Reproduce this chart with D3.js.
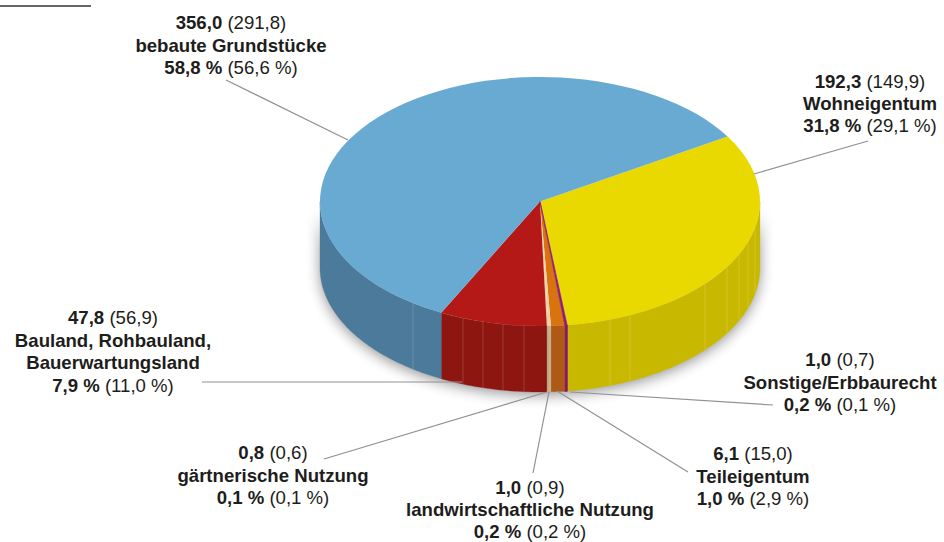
<!DOCTYPE html>
<html><head><meta charset="utf-8">
<script src="https://cdn.jsdelivr.net/npm/d3@7/dist/d3.min.js"></script>
<style>html,body{margin:0;padding:0;background:#fff}svg{display:block}text{font-family:"Liberation Sans",Arial,sans-serif;font-size:18.6px;fill:#1d1d1b}</style>
</head><body><svg id="c" width="944" height="542"></svg>
<script>
const categories=["Wohneigentum","Sonstige/Erbbaurecht","Teileigentum","landwirtschaftliche Nutzung","gärtnerische Nutzung","Bauland, Rohbauland, Bauerwartungsland","bebaute Grundstücke"];
const values=[192.3,1.0,6.1,1.0,0.8,47.8,356.0];
const prevValues=["149,9","0,7","15,0","0,9","0,6","56,9","291,8"];
const shares=["31,8 %","0,2 %","1,0 %","0,2 %","0,1 %","7,9 %","58,8 %"];
const prevShares=["29,1 %","0,1 %","2,9 %","0,2 %","0,1 %","11,0 %","56,6 %"];
const valueLabels=["192,3","1,0","6,1","1,0","0,8","47,8","356,0"];
const topColors=["#e9d900","#8f1a7c","#d8730d","#e8cfa0","#e8cfa0","#b51917","#69aad2"];
const sideColors=["#c9b800","#86166f","#ae5a16","#c8b08c","#c8b08c","#8e1611","#4b7a9b"];
const sliceStroke=[0,0.9,0,0,0,0,0];
const cx=540,cy=201.5,rx=220,ry=124.5,depth=66,startDeg=58.5;
const svg=d3.select("#c");
const defs=svg.append("defs");
const f=defs.append("filter").attr("id","sh").attr("x","-10%").attr("y","-10%").attr("width","120%").attr("height","130%");
f.append("feGaussianBlur").attr("stdDeviation",7);
svg.append("line").attr("x1",0).attr("x2",91).attr("y1",6).attr("y2",6).attr("stroke","#666").attr("stroke-width",2);

const start=startDeg*Math.PI/180;
const arcs=d3.pie().sort(null).startAngle(start).endAngle(start+2*Math.PI)(values);
const px=a=>cx+rx*Math.sin(a), py=a=>cy-ry*Math.cos(a);

function wall(a0,a1){
  const n=Math.max(2,Math.ceil((a1-a0)*60));
  const s=d3.range(n+1).map(i=>a0+(a1-a0)*i/n);
  const p=d3.path();
  s.forEach((a,i)=>i?p.lineTo(px(a),py(a)):p.moveTo(px(a),py(a)));
  s.slice().reverse().forEach(a=>p.lineTo(px(a),py(a)+depth));
  p.closePath();
  return p.toString();
}
// soft shadow below the solid
svg.append("path").attr("d",wall(Math.PI/2,Math.PI*1.5)).attr("fill","#000").attr("opacity",.42).attr("filter","url(#sh)").attr("transform","translate(0,3)");
const side=svg.append("g");
arcs.forEach((d,i)=>{
  const a0=Math.max(d.startAngle,Math.PI/2);
  const a1=Math.min(d.endAngle,Math.PI*1.5);
  if(a1>a0) side.append("path").attr("d",wall(a0,a1)).attr("fill",sideColors[i]).attr("stroke",sideColors[i]).attr("stroke-width",.3+sliceStroke[i]);
});
// faint seams on the wall
const seamOffsets=[-127,-77,-57,-37,-16,70,90,165,187,199,208,215];
seamOffsets.forEach(o=>{
  const a=Math.PI-Math.asin(o/rx);
  side.append("line").attr("x1",px(a)).attr("x2",px(a)).attr("y1",py(a)).attr("y2",py(a)+depth)
    .attr("stroke","#fff").attr("stroke-opacity",.16).attr("stroke-width",1);
});
const topFace=svg.append("g").attr("transform",`translate(${cx},${cy}) scale(1,${ry/rx})`);
const arc=d3.arc().innerRadius(0).outerRadius(rx);
topFace.selectAll("path").data(arcs).join("path").attr("d",arc).attr("fill",(d,i)=>topColors[i])
  .attr("stroke",(d,i)=>sliceStroke[i]?topColors[i]:"none").attr("stroke-width",(d,i)=>sliceStroke[i])
  .filter((d,i)=>sliceStroke[i]>0).raise();

const leaders=[[868,141,754,174],[773,405,570,392],[688,472,557,391],[533,473,549,392],[324,459,547,392],[202,382,462,382],[226,80,348,140]];
svg.append("g").selectAll("line").data(leaders).join("line")
  .attr("x1",d=>d[0]).attr("y1",d=>d[1]).attr("x2",d=>d[2]).attr("y2",d=>d[3])
  .attr("stroke","#919191").attr("stroke-width",1.2);

const labelPos=[[870,88],[840,366],[753,460],[530,494],[273,459],[113,324],[231,29]];
const nameLines=[["Wohneigentum"],["Sonstige/Erbbaurecht"],["Teileigentum"],["landwirtschaftliche Nutzung"],["gärtnerische Nutzung"],["Bauland, Rohbauland,","Bauerwartungsland"],["bebaute Grundstücke"]];
const lineHeights=[22,22.5,22.5,22,22.5,22.5,22.5];
categories.forEach((c,i)=>{
  const g=svg.append("text").attr("text-anchor","middle");
  const [x,y]=labelPos[i];
  const lh=lineHeights[i];
  let row=0;
  const t=g.append("tspan").attr("x",x).attr("y",y);
  t.append("tspan").attr("font-weight","bold").text(valueLabels[i]);
  t.append("tspan").text(" ("+prevValues[i]+")");
  nameLines[i].forEach(n=>{row++;g.append("tspan").attr("x",x).attr("y",y+row*lh).attr("font-weight","bold").text(n);});
  row++;
  const b=g.append("tspan").attr("x",x).attr("y",y+row*lh);
  b.append("tspan").attr("font-weight","bold").text(shares[i]);
  b.append("tspan").text(" ("+prevShares[i]+")");
});
</script></body></html>
